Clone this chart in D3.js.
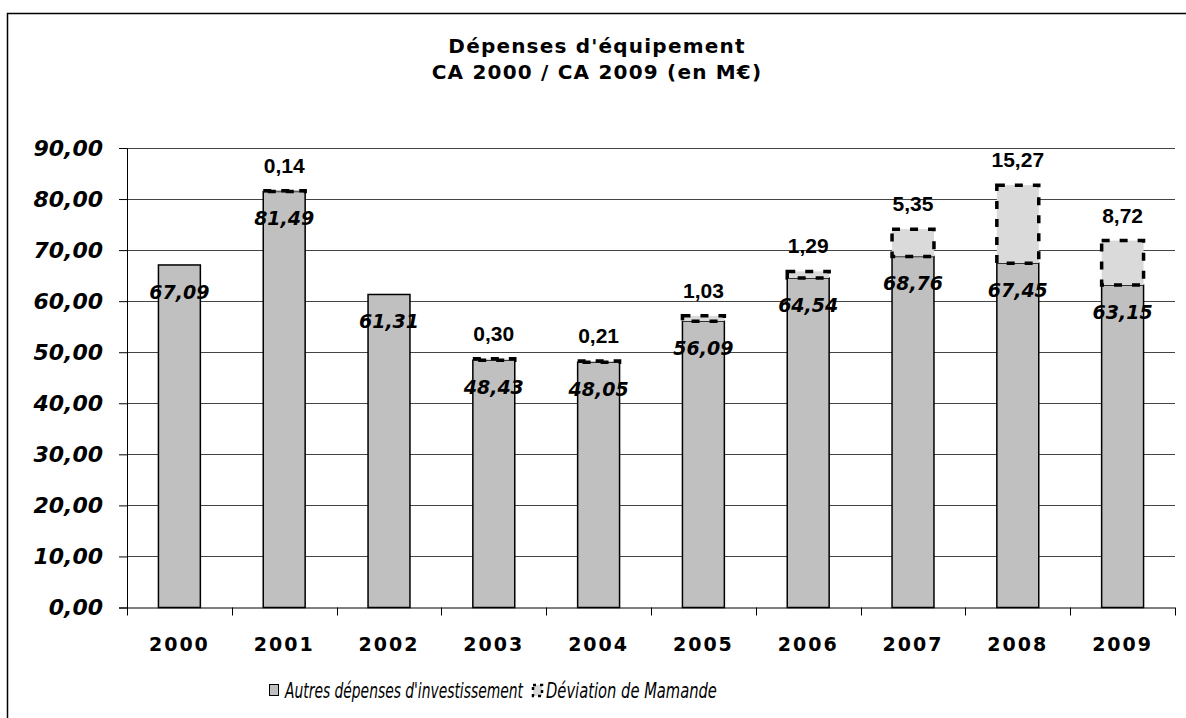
<!DOCTYPE html>
<html>
<head>
<meta charset="utf-8">
<script src="https://cdn.jsdelivr.net/npm/d3@7"></script>
<style>
  body { margin: 0; background: #fff; }
  svg { display: block; }
</style>
</head>
<body>
<div id="chart"></div>
<script>
// Data
var years = ["2000", "2001", "2002", "2003", "2004", "2005", "2006", "2007", "2008", "2009"];
var autres = [67.09, 81.49, 61.31, 48.43, 48.05, 56.09, 64.54, 68.76, 67.45, 63.15];
var deviation = [null, 0.14, null, 0.30, 0.21, 1.03, 1.29, 5.35, 15.27, 8.72];
var yTicks = [0, 10, 20, 30, 40, 50, 60, 70, 80, 90];
var seriesNames = ["Autres dépenses d'investissement", "Déviation de Mamande"];

var svgWidth = 1186;
var svgHeight = 718;

var margin = { top: 148, right: 11, bottom: 110, left: 127 };
var width = svgWidth - margin.left - margin.right;
var height = 607.5 - margin.top;

var fmt = function (v) { return v.toFixed(2).replace(".", ","); };

var svg = d3.select("#chart")
  .append("svg")
  .attr("width", svgWidth)
  .attr("height", svgHeight);

// Outer frame
svg.append("rect")
  .attr("x", 7.5).attr("y", 13.5)
  .attr("width", svgWidth + 20).attr("height", svgHeight + 20)
  .attr("fill", "none")
  .attr("stroke", "#000")
  .attr("stroke-width", 1.5);

// Title
var title = svg.append("text")
  .attr("text-anchor", "middle")
  .attr("font-family", "DejaVu Sans")
  .attr("font-weight", "bold")
  .attr("font-size", "20px")
  .attr("letter-spacing", "1.2px");
title.append("tspan").attr("x", 597).attr("y", 53).text("Dépenses d'équipement");
title.append("tspan").attr("x", 597).attr("y", 79).text("CA 2000 / CA 2009 (en M€)");

var chartGroup = svg.append("g")
  .attr("transform", `translate(${margin.left}, ${margin.top})`);

// Scales
var xScale = d3.scaleBand()
  .domain(years)
  .range([0, width])
  .paddingInner(0.6)
  .paddingOuter(0.3);

var yScale = d3.scaleLinear()
  .domain([0, 90])
  .range([height, 0]);

// Gridlines
chartGroup.append("g")
  .selectAll("line")
  .data(yTicks.slice(1))
  .enter()
  .append("line")
  .attr("x1", 0).attr("x2", width)
  .attr("y1", d => Math.round(yScale(d)) + 0.5)
  .attr("y2", d => Math.round(yScale(d)) + 0.5)
  .attr("stroke", "#444")
  .attr("stroke-width", 1);

// Y axis
var leftAxis = d3.axisLeft(yScale)
  .tickValues(yTicks)
  .tickSize(8)
  .tickPadding(16)
  .tickFormat(fmt);

var yAxis = chartGroup.append("g").call(leftAxis);
yAxis.select(".domain").attr("stroke", "#000");
yAxis.selectAll("line").attr("stroke", "#000");
yAxis.selectAll("text")
  .attr("font-family", "DejaVu Sans")
  .attr("font-weight", "bold")
  .attr("font-style", "italic")
  .attr("font-size", "22px")
  .attr("fill", "#000");

// X axis (ticks at category boundaries)
chartGroup.append("line")
  .attr("x1", 0).attr("x2", width)
  .attr("y1", height + 0.5).attr("y2", height + 0.5)
  .attr("stroke", "#000");

chartGroup.append("g")
  .selectAll("line")
  .data(d3.range(years.length + 1))
  .enter()
  .append("line")
  .attr("x1", i => Math.round(i * width / years.length) + 0.5)
  .attr("x2", i => Math.round(i * width / years.length) + 0.5)
  .attr("y1", height)
  .attr("y2", height + 8)
  .attr("stroke", "#000");

chartGroup.append("g")
  .selectAll("text")
  .data(years)
  .enter()
  .append("text")
  .attr("x", d => xScale(d) + xScale.bandwidth() / 2)
  .attr("y", height + 43)
  .attr("text-anchor", "middle")
  .attr("font-family", "DejaVu Sans")
  .attr("font-weight", "bold")
  .attr("font-size", "19px")
  .attr("letter-spacing", "2px")
  .text(d => d);

// Base bars
chartGroup.append("g")
  .selectAll("rect")
  .data(autres)
  .enter()
  .append("rect")
  .attr("x", (d, i) => xScale(years[i]))
  .attr("y", d => yScale(d))
  .attr("width", xScale.bandwidth())
  .attr("height", d => height - yScale(d))
  .attr("fill", "#c0c0c0")
  .attr("stroke", "#000")
  .attr("stroke-width", 1.5);

// Deviation segments (dashed)
var devGroup = chartGroup.append("g");
deviation.forEach(function (d, i) {
  if (d === null) return;
  devGroup.append("rect")
    .attr("x", xScale(years[i]))
    .attr("y", yScale(autres[i] + d))
    .attr("width", xScale.bandwidth())
    .attr("height", yScale(autres[i]) - yScale(autres[i] + d))
    .attr("fill", "#dadada")
    .attr("stroke", "#000")
    .attr("stroke-width", 3.5)
    .attr("stroke-dasharray", "8,10");
});

// Inner labels (base values)
chartGroup.append("g")
  .selectAll("text")
  .data(autres)
  .enter()
  .append("text")
  .attr("x", (d, i) => xScale(years[i]) + xScale.bandwidth() / 2)
  .attr("y", d => yScale(d) + 34)
  .attr("text-anchor", "middle")
  .attr("font-family", "DejaVu Sans")
  .attr("font-weight", "bold")
  .attr("font-style", "italic")
  .attr("font-size", "19px")
  .text(fmt);

// Top labels (deviation values)
deviation.forEach(function (d, i) {
  if (d === null) return;
  chartGroup.append("text")
    .attr("x", xScale(years[i]) + xScale.bandwidth() / 2)
    .attr("y", yScale(autres[i] + d) - 18)
    .attr("text-anchor", "middle")
    .attr("font-family", "Liberation Sans")
    .attr("font-weight", "bold")
    .attr("font-size", "21px")
    .text(fmt(d));
});

// Legend (narrow italic text, squeezed horizontally)
var legend = svg.append("g");
legend.append("rect")
  .attr("x", 269.5).attr("y", 684.5)
  .attr("width", 9).attr("height", 11)
  .attr("fill", "#c0c0c0")
  .attr("stroke", "#000")
  .attr("stroke-width", 1);

legend.append("rect")
  .attr("x", 533).attr("y", 685)
  .attr("width", 9).attr("height", 11)
  .attr("fill", "#dadada")
  .attr("stroke", "#000")
  .attr("stroke-width", 2.5)
  .attr("stroke-dasharray", "3,4");

function legendText(x, w, label) {
  var g = legend.append("g").attr("transform", `translate(${x}, 698)`);
  var t = g.append("text")
    .attr("font-family", "DejaVu Sans")
    .attr("font-style", "italic")
    .attr("font-size", "21px")
    .text(label);
  var k = w / t.node().getComputedTextLength();
  t.attr("transform", `scale(${k}, 1)`);
}
legendText(285, 238, seriesNames[0]);
legendText(546, 171, seriesNames[1]);
</script>
</body>
</html>
